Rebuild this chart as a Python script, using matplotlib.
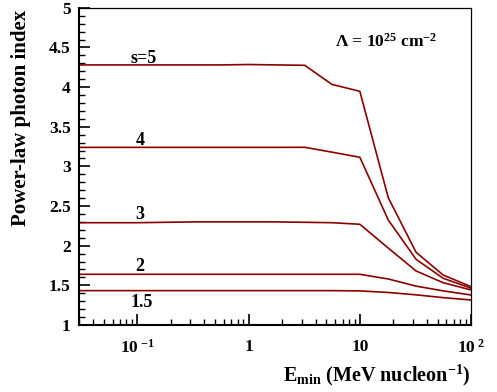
import matplotlib
matplotlib.use("Agg")
import matplotlib.pyplot as plt
from matplotlib.ticker import FixedLocator, NullFormatter, MultipleLocator

plt.rcParams['font.family'] = ['Liberation Serif', 'DejaVu Serif']
plt.rcParams['mathtext.fontset'] = 'custom'
plt.rcParams['mathtext.rm'] = 'Liberation Serif:bold'
plt.rcParams['mathtext.bf'] = 'Liberation Serif:bold'
plt.rcParams['mathtext.it'] = 'Liberation Serif:bold'
plt.rcParams['mathtext.default'] = 'bf'

# Data
e_min = [0.03, 0.056, 0.1, 0.18, 0.32, 0.56, 1.0, 1.8, 3.2, 5.6, 10, 18, 32, 56, 100]
idx_s5 = [4.28, 4.28, 4.28, 4.28, 4.28, 4.28, 4.285, 4.28, 4.275, 4.035, 3.947, 2.605, 1.917, 1.63, 1.483]
idx_s4 = [3.24, 3.24, 3.24, 3.24, 3.24, 3.24, 3.24, 3.24, 3.241, 3.18, 3.115, 2.324, 1.828, 1.589, 1.463]
idx_s3 = [2.29, 2.29, 2.29, 2.295, 2.30, 2.30, 2.30, 2.30, 2.295, 2.29, 2.27, 1.97, 1.681, 1.533, 1.441]
idx_s2 = [1.639, 1.639, 1.639, 1.639, 1.639, 1.639, 1.639, 1.639, 1.639, 1.639, 1.639, 1.58, 1.49, 1.43, 1.378]
idx_s15 = [1.433, 1.433, 1.433, 1.433, 1.433, 1.433, 1.433, 1.433, 1.433, 1.433, 1.43, 1.41, 1.38, 1.345, 1.315]
series = [idx_s5, idx_s4, idx_s3, idx_s2, idx_s15]
labels = ["s=5", "4", "3", "2", "1.5"]
label_pos = [(0.114, 4.31), (0.106, 3.27), (0.106, 2.34), (0.106, 1.68), (0.11, 1.23)]

xticks = [0.1, 1, 10, 100]
xticklabels = [r"10$^{\ \mathbf{-1}}$", "1", "10", r"10$^{\ \mathbf{2}}$"]
yticks = [1, 1.5, 2, 2.5, 3, 3.5, 4, 4.5, 5]
yticklabels = ["1", "1.5", "2", "2.5", "3", "3.5", "4", "4.5", "5"]

fig = plt.figure(figsize=(4.97, 3.92), dpi=100)
ax = fig.add_axes([0.159, 0.171, 0.789, 0.809])
for ys in series:
    ax.plot(e_min, ys, color='#8B0000', lw=1.2)

ax.set_xscale('log')
ax.set_xlim(0.03, 100)
ax.set_ylim(1, 5)

ax.xaxis.set_major_locator(FixedLocator(xticks))
ax.set_xticklabels(xticklabels)
minors = [m * 10.0**d for d in range(-2, 2) for m in range(2, 10)]
ax.xaxis.set_minor_locator(FixedLocator([v for v in minors if 0.03 <= v <= 100]))
ax.xaxis.set_minor_formatter(NullFormatter())

ax.set_yticks(yticks)
ax.set_yticklabels(yticklabels)
ax.yaxis.set_minor_locator(MultipleLocator(0.1))

ax.tick_params(axis='both', which='major', direction='in', length=8, width=1.2,
               labelsize=12.5, top=False, right=False)
ax.tick_params(axis='both', which='minor', direction='in', length=4, width=1.0,
               top=False, right=False)
ax.tick_params(axis='x', which='major', pad=10)
ax.tick_params(axis='y', which='major', pad=6)
for lab in ax.get_yticklabels() + ax.get_xticklabels():
    lab.set_fontweight('bold')

ax.spines['left'].set_linewidth(1.5)
ax.spines['bottom'].set_linewidth(1.5)
ax.spines['top'].set_linewidth(0.9)
ax.spines['right'].set_linewidth(0.9)

for t, (x, y) in zip(labels, label_pos):
    ax.text(x, y, t, fontsize=13, fontweight='bold', ha='center', va='baseline')

ax.text(0.783, 0.893, r"$\Lambda$ = 10$^{25}$ cm$^{-2}$",
        transform=ax.transAxes, fontsize=12.5, fontweight='bold', ha='center', va='center')

fig.text(0.042, 0.70, "Power-law photon index", rotation=90,
         fontsize=15, fontweight='bold', ha='center', va='center')
fig.text(0.757, 0.043, r"E$_{min}$ (MeV nucleon$^{-1}$)",
         fontsize=14.5, fontweight='bold', ha='center', va='center')

fig.savefig("out.png", dpi=100)
